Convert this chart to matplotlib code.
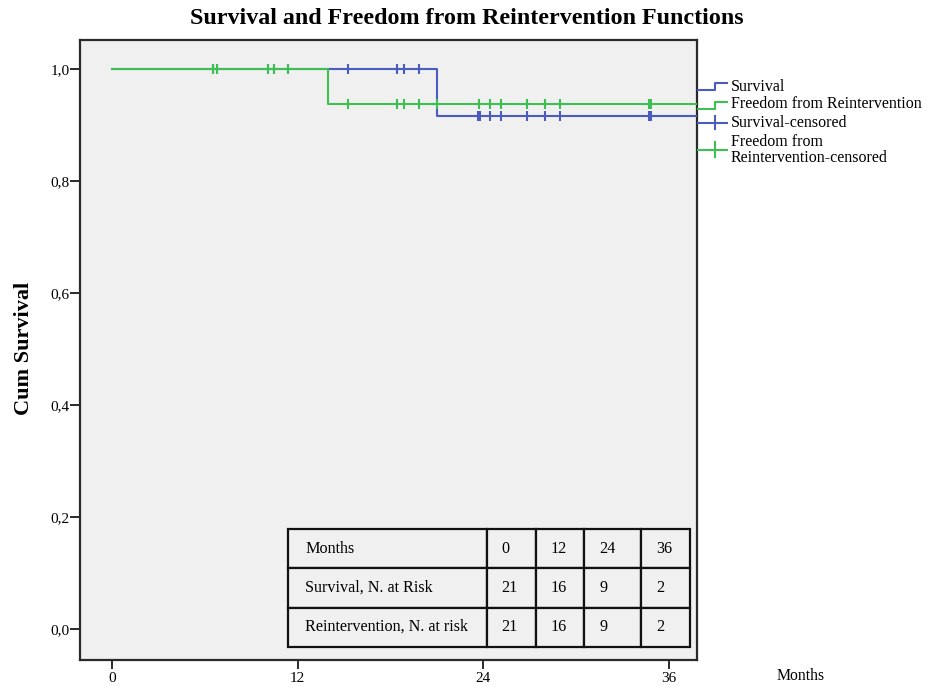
import matplotlib
matplotlib.use("Agg")
import matplotlib.pyplot as plt
from matplotlib.lines import Line2D
import numpy as np

plt.rcParams['font.family'] = ['Liberation Serif', 'DejaVu Serif']

# ---- data ----
surv_times = [0, 21, 38]
surv_vals = [1.0, 0.9167, 0.9167]
reint_times = [0, 14, 38]
reint_vals = [1.0, 0.9375, 0.9375]

surv_censor = [6.53, 6.77, 10.07, 10.5, 11.4, 15.29, 18.41, 18.9, 19.88,
               23.70, 23.78, 24.47, 25.16, 26.82, 27.98, 28.98, 34.75, 34.85]
reint_censor = [6.53, 6.77, 10.07, 10.5, 11.4, 15.29, 18.41, 18.9, 19.88, 21.0,
                23.74, 24.47, 25.16, 26.82, 27.98, 28.98, 34.75, 34.85]

x_ticks = [0, 12, 24, 36]
y_ticks = [0.0, 0.2, 0.4, 0.6, 0.8, 1.0]
y_tick_labels = ["0,0", "0,2", "0,4", "0,6", "0,8", "1,0"]

table_rows = [["Months", "0", "12", "24", "36"],
              ["Survival, N. at Risk", "21", "16", "9", "2"],
              ["Reintervention, N. at risk", "21", "16", "9", "2"]]

legend_labels = ["Survival", "Freedom from Reintervention", "Survival-censored",
                 "Freedom from\nReintervention-censored"]

BLUE = '#4A5CBE'
GREEN = '#3DBF52'
BG = '#F0F0F0'
FRAME = '#2a2a2a'

W, H = 929, 687
fig = plt.figure(figsize=(W / 100, H / 100), dpi=100)
ax = fig.add_axes([80 / W, (H - 660) / H, 617 / W, 620 / H])
ax.set_facecolor(BG)


def step_val(times, vals, t):
    idx = np.searchsorted(times, t, side='right') - 1
    return vals[idx]


ax.step(surv_times, surv_vals, where='post', color=BLUE, lw=1.5, zorder=3)
ax.plot(surv_censor, [step_val(surv_times, surv_vals, t) for t in surv_censor],
        linestyle='none', marker='|', ms=6.5, mew=1.5, color=BLUE, zorder=3)
ax.step(reint_times, reint_vals, where='post', color=GREEN, lw=1.5, zorder=4)
ax.plot(reint_censor, [step_val(reint_times, reint_vals, t) for t in reint_censor],
        linestyle='none', marker='|', ms=6.5, mew=1.5, color=GREEN, zorder=4)

ax.set_xlim(-2.07, 37.84)
ax.set_ylim(-0.055, 1.052)
ax.set_xticks(x_ticks)
ax.set_xticklabels([str(v) for v in x_ticks], fontsize=11)
ax.set_yticks(y_ticks)
ax.set_yticklabels(y_tick_labels, fontsize=11)
ax.tick_params(axis='x', direction='out', length=6.5, width=1.4, color=FRAME, pad=2.5)
ax.tick_params(axis='y', direction='out', length=7, width=1.4, color=FRAME, pad=0.5)
for s in ax.spines.values():
    s.set_color(FRAME)
    s.set_linewidth(1.6)

# ---- table ----
colw_px = np.array([198.7, 49.3, 48.3, 56.7, 49.0])
colw = colw_px / colw_px.sum()
tbl = ax.table(cellText=table_rows, colWidths=list(colw), cellLoc='left',
               bbox=[(288 - 80) / 617, (660 - 646.7) / 620, (690 - 288) / 617,
                     (646.7 - 529.3) / 620], zorder=5)
tbl.auto_set_font_size(False)
for (r, c), cell in tbl.get_celld().items():
    cell.set_facecolor(BG)
    cell.set_edgecolor('#111111')
    cell.set_linewidth(1.6)
    cell.get_text().set_fontsize(11.6)
    cell.PAD = (17.0 if c == 0 else 15.0) / colw_px[c]

# ---- title / labels ----
fig.text(467 / W, 1 - 18 / H, "Survival and Freedom from Reintervention Functions",
         ha='center', va='center', fontsize=17.3, fontweight='bold')
fig.text(24 / W, 1 - 348 / H, "Cum Survival", rotation=90, ha='center', va='center',
         fontsize=16, fontweight='bold')
fig.text(801 / W, 1 - 676 / H, "Months", ha='center', va='center', fontsize=11.3)

# ---- legend (pixel coordinates) ----
lax = fig.add_axes([0, 0, 1, 1], facecolor='none')
lax.set_xlim(0, W)
lax.set_ylim(H, 0)
lax.axis('off')
lw = 1.5
lax.add_line(Line2D([698, 715, 715, 727], [90, 90, 83.3, 83.3], color=BLUE, lw=lw))
lax.add_line(Line2D([698, 715, 715, 727], [109.3, 109.3, 101.7, 101.7], color=GREEN, lw=lw))
lax.add_line(Line2D([698, 727], [122.5, 122.5], color=BLUE, lw=lw))
lax.add_line(Line2D([715, 715], [116, 129], color=BLUE, lw=lw))
lax.add_line(Line2D([698, 727], [149.5, 149.5], color=GREEN, lw=lw))
lax.add_line(Line2D([715, 715], [142, 157], color=GREEN, lw=lw))
lax.text(731, 87, legend_labels[0], ha='left', va='center', fontsize=11.5)
lax.text(731, 104.5, legend_labels[1], ha='left', va='center', fontsize=11.5)
lax.text(731, 123, legend_labels[2], ha='left', va='center', fontsize=11.5)
lax.text(731, 150.5, legend_labels[3], ha='left', va='center', fontsize=11.5,
         linespacing=1.0)

fig.savefig("out.png", dpi=100)
